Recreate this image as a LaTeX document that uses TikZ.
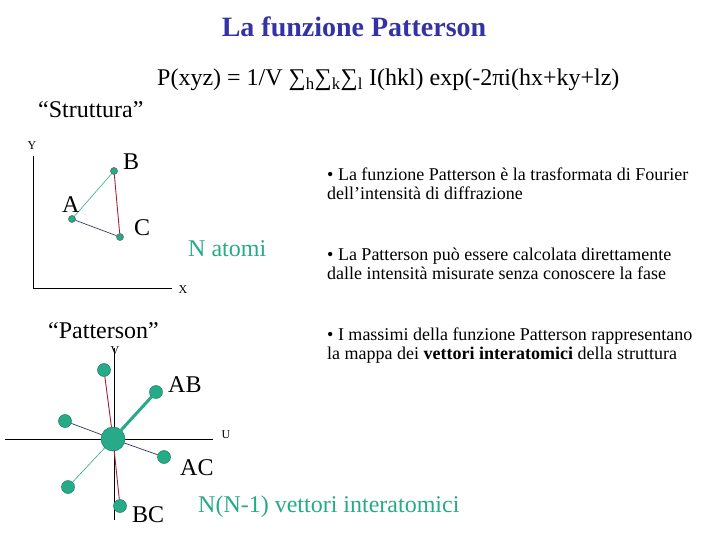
\documentclass[tikz,border=0pt]{standalone}
\usepackage{fontspec}
\setmainfont{Liberation Serif}
\usetikzlibrary{positioning}
\definecolor{titleblue}{RGB}{51,51,165}
\definecolor{atomteal}{RGB}{38,170,135}
\definecolor{bondred}{RGB}{165,30,55}
\definecolor{bondnavy}{RGB}{50,50,105}
\tikzset{
  atom/.style={circle, fill=atomteal, draw=black!65, inner sep=0pt, minimum size=7pt, line width=0.5pt},
  peak/.style={circle, fill=atomteal, draw=atomteal!75!black, inner sep=0pt, minimum size=13pt, line width=0.5pt},
  origin/.style={peak, minimum size=24pt},
  axislabel/.style={font=\fontsize{12}{14}\selectfont, inner sep=0pt},
  bigtext/.style={font=\fontsize{24}{28}\selectfont, inner sep=0pt, anchor=base west},
  bullettext/.style={font=\fontsize{18}{19}\selectfont, inner sep=0pt, align=left, anchor=north west}
}
\begin{document}
\begin{tikzpicture}[x=1pt, y=-1pt]
    \useasboundingbox (0,0) rectangle (720,540);
    \node[font=\fontsize{28}{32}\selectfont\bfseries, text=titleblue, anchor=base] (title) at (354,37) {La funzione Patterson};
    \node[bigtext] (formula) at (157,86) {P(xyz) = 1/V ∑\textsubscript{h}∑\textsubscript{k}∑\textsubscript{l} I(hkl) exp(-2πi(hx+ky+lz)};
    \node[bigtext] (struttura) at (38,118) {“Struttura”};
    \node[bigtext] (patterson) at (48,338) {“Patterson”};
    % struttura
    \coordinate (yTop) at (33,156);
    \coordinate (xyO) at (33,288);
    \coordinate (xEnd) at (172,288);
    \draw (yTop) -- (xyO) -- (xEnd);
    \node[axislabel] (labY) at (32,146) {Y};
    \node[axislabel] (labX) at (183,290) {X};
    \node[atom] (atB) at (114,171) {};
    \node[atom] (atA) at (72,219) {};
    \node[atom] (atC) at (120,237) {};
    \draw[atomteal, line width=0.6pt] (atA) -- (atB);
    \draw[bondred, line width=0.9pt] (atB) -- (atC);
    \draw[bondnavy, line width=0.7pt] (atA) -- (atC);
    \node[bigtext] (labB) at (123,170) {B};
    \node[bigtext] (labA) at (62,212) {A};
    \node[bigtext] (labC) at (134,236) {C};
    \node[bigtext, text=atomteal] (natomi) at (188,256) {N atomi};
    % patterson
    \coordinate (vTop) at (114,348);
    \coordinate (vBot) at (114,520);
    \coordinate (uLeft) at (5,439);
    \coordinate (uRight) at (213,439);
    \draw (vTop) -- (vBot);
    \draw (uLeft) -- (uRight);
    \node[axislabel] (labV) at (115,351) {V};
    \node[axislabel] (labU) at (226,435) {U};
    \node[origin] (pO) at (113,439) {};
    \node[peak] (pTop) at (104,370) {};
    \node[peak] (pAB) at (156,392) {};
    \node[peak] (pLeft) at (65,421) {};
    \node[peak] (pAC) at (164,457) {};
    \node[peak] (pLow) at (68,487) {};
    \node[peak] (pBC) at (120,506) {};
    \draw[bondred, line width=0.9pt] (pO) -- (pTop);
    \draw[bondred, line width=0.9pt] (pO) -- (pBC);
    \draw[atomteal, line width=3pt] (pO) -- (pAB);
    \draw[atomteal, line width=0.6pt] (pO) -- (pLow);
    \draw[bondnavy, line width=0.7pt] (pO) -- (pLeft);
    \draw[bondnavy, line width=0.7pt] (pO) -- (pAC);
    \node[bigtext] (labAB) at (168,392) {AB};
    \node[bigtext] (labAC) at (180,475) {AC};
    \node[bigtext] (labBC) at (132,522) {BC};
    \node[bigtext, text=atomteal] (vettori) at (198,512) {N(N-1) vettori interatomici};
    % testo
    \node[bullettext] (punto1) at (327,168) {• La funzione Patterson è la trasformata di Fourier\\dell’intensità di diffrazione};
    \node[bullettext] (punto2) at (327,248) {• La Patterson può essere calcolata direttamente\\dalle intensità misurate senza conoscere la fase};
    \node[bullettext] (punto3) at (327,328) {• I massimi della funzione Patterson rappresentano\\la mappa dei \textbf{vettori interatomici} della struttura};
\end{tikzpicture}
\end{document}
